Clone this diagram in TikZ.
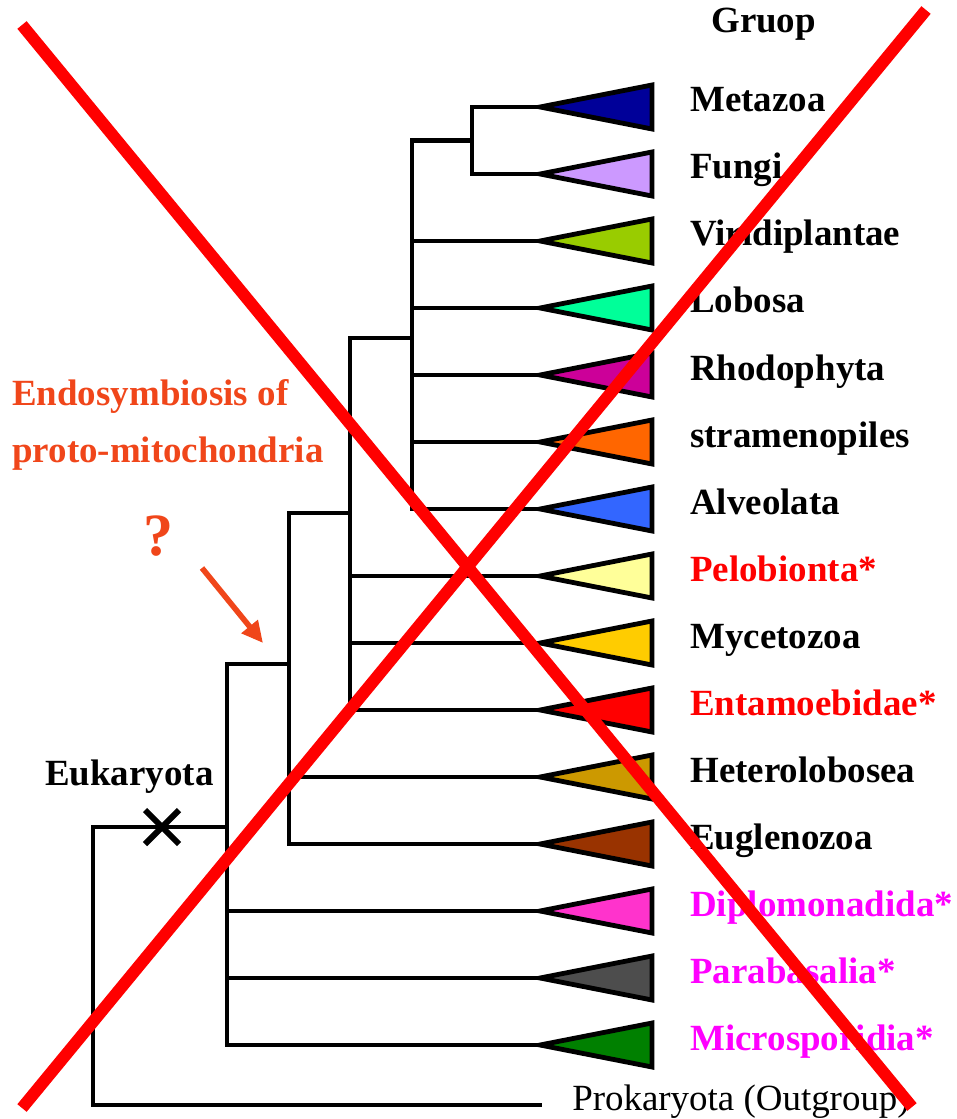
\documentclass[tikz,border=0pt]{standalone}
\usepackage{fontspec}
\setmainfont{Liberation Serif}
\usetikzlibrary{arrows.meta,shapes.misc}
\definecolor{cMeta}{HTML}{000099}
\definecolor{cFungi}{HTML}{CC99FF}
\definecolor{cViri}{HTML}{99CC00}
\definecolor{cLobo}{HTML}{00FF99}
\definecolor{cRhodo}{HTML}{CC0099}
\definecolor{cStram}{HTML}{FF6600}
\definecolor{cAlveo}{HTML}{3366FF}
\definecolor{cPelo}{HTML}{FFFF99}
\definecolor{cMyce}{HTML}{FFCC00}
\definecolor{cEnta}{HTML}{FF0000}
\definecolor{cHetero}{HTML}{CC9900}
\definecolor{cEugl}{HTML}{993300}
\definecolor{cDiplo}{HTML}{FF33CC}
\definecolor{cPara}{HTML}{4D4D4D}
\definecolor{cMicro}{HTML}{008000}
\definecolor{amito}{HTML}{FF0000}
\definecolor{amitoB}{HTML}{FF00FF}
\definecolor{note}{HTML}{F0461A}
\definecolor{veto}{HTML}{FF0000}
\tikzset{
  branch/.style={line width=3.4pt,draw=black},
  clade/.style={line width=3.6pt,draw=black,line join=miter},
  taxon/.style={font=\bfseries\fontsize{27.7}{33}\selectfont,anchor=base west,inner sep=0pt},
  plain/.style={font=\fontsize{27.7}{33}\selectfont,anchor=base west,inner sep=0pt},
  notetext/.style={taxon,text=note},
  qmark/.style={font=\bfseries\fontsize{45}{50}\selectfont,anchor=base west,inner sep=0pt,text=note},
  hint/.style={-{Triangle[length=16pt,width=15pt]},line width=4.2pt,draw=note},
  loss/.style={cross out,draw=black,line width=4.5pt,minimum size=21pt,inner sep=0pt},
  crossline/.style={line width=9pt,draw=veto}
}
\begin{document}
\begin{tikzpicture}[x=0.75pt,y=-0.75pt]
  \useasboundingbox (0,0) rectangle (956,1119);
  % groups: tip of each clade triangle
  \foreach \i in {1,...,15}
    \coordinate (t\i) at (540,{107+67*(\i-1)});
  \coordinate (mf) at (472,140.5);
  \coordinate (crown) at (412,338);
  \coordinate (mid) at (350,513);
  \coordinate (core) at (289,664);
  \coordinate (euk) at (227,827);
  \coordinate (root) at (93,966);
  \coordinate (prok) at (542,1105);
  % tree
  \draw[branch] (t1) -| (mf) |- (t2);
  \draw[branch] (mf) -| (crown) |- (t7);
  \foreach \i in {3,...,6}
    \draw[branch] (crown |- t\i) -- (t\i);
  \draw[branch] (crown) -| (mid) |- (t10);
  \foreach \i in {8,9}
    \draw[branch] (mid |- t\i) -- (t\i);
  \draw[branch] (mid) -| (core) |- (t12);
  \draw[branch] (core |- t11) -- (t11);
  \draw[branch] (core) -| (euk) |- (t15);
  \foreach \i in {13,14}
    \draw[branch] (euk |- t\i) -- (t\i);
  \draw[branch] (euk) -| (root) |- (prok);
  % clades and labels
  \foreach \name/\fillc/\txtc [count=\i] in {Metazoa/cMeta/black,Fungi/cFungi/black,
      Viridiplantae/cViri/black,Lobosa/cLobo/black,Rhodophyta/cRhodo/black,
      stramenopiles/cStram/black,Alveolata/cAlveo/black,Pelobionta*/cPelo/amito,
      Mycetozoa/cMyce/black,Entamoebidae*/cEnta/amito,Heterolobosea/cHetero/black,
      Euglenozoa/cEugl/black,Diplomonadida*/cDiplo/amitoB,Parabasalia*/cPara/amitoB,
      Microsporidia*/cMicro/amitoB}{
    \draw[clade,fill=\fillc] (t\i) -- ++(112,-22) -- ++(0,44) -- cycle;
    \node[taxon,text=\txtc] (lab\i) at (690,{112+67*(\i-1)}) {\name};
  }
  \node[taxon] (head) at (711,33) {Gruop};
  \node[plain] (out) at (572,1110) {Prokaryota (Outgroup)};
  \node[taxon] (eukl) at (45,785) {Eukaryota};
  \node[loss] (xm) at (162,827) {};
  % mitochondria note
  \node[notetext] (endo1) at (12,405) {Endosymbiosis of};
  \node[notetext] (endo2) at (12,462) {proto-mitochondria};
  \node[qmark] (q) at (143,555) {?};
  \coordinate (a1) at (202,568);
  \coordinate (a2) at (263,643);
  \draw[hint] (a1) -- (a2);
  % crossed out
  \draw[crossline] (22,25) -- (912,1107);
  \draw[crossline] (926,10) -- (22,1108);
\end{tikzpicture}
\end{document}
